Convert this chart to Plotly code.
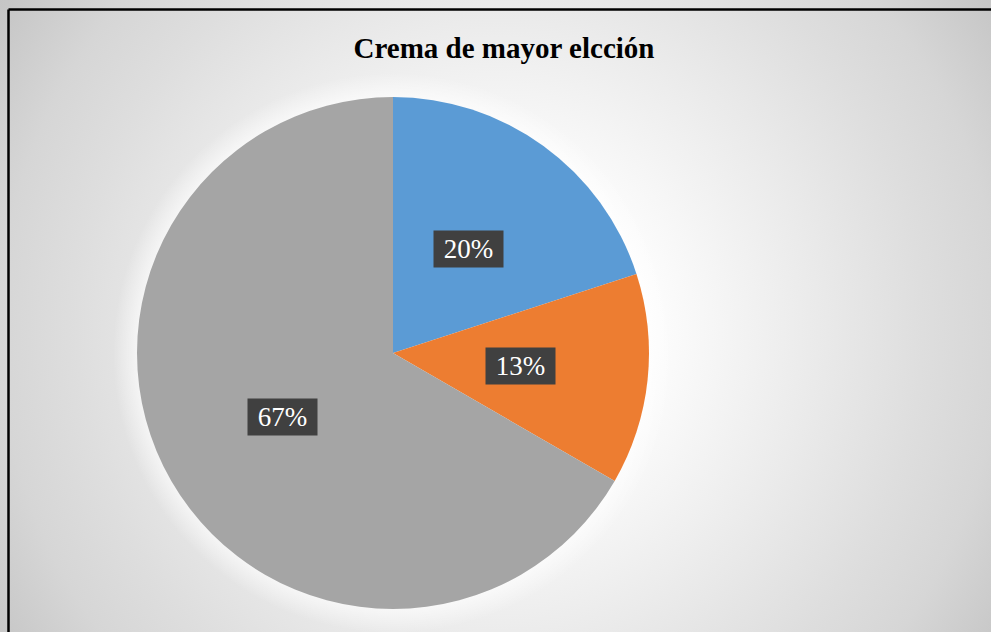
import math
import plotly.graph_objects as go

# ---- data ----
categories = ["MUESTRA 1", "MUESTRA 2", "MUESTRA 3"]
counts = [3, 2, 10]
colors = ["#5B9BD5", "#ED7D31", "#A5A5A5"]
title_text = "Crema de mayor elcción"

W, H = 991, 632
SERIF = "Liberation Serif, Times New Roman, serif"

cx_px, cy_px, r_px = 393, 353, 256
dom_x = [(cx_px - r_px) / W, (cx_px + r_px) / W]
dom_y = [1 - (cy_px + r_px) / H, 1 - (cy_px - r_px) / H]

fig = go.Figure()

gx, gy, S = 500, 330, 650
fig.add_trace(go.Scatter(
    x=[(gx - S) / W, (gx + S) / W, (gx + S) / W, (gx - S) / W, (gx - S) / W],
    y=[1 - (gy + S) / H, 1 - (gy + S) / H, 1 - (gy - S) / H, 1 - (gy - S) / H,
       1 - (gy + S) / H],
    mode="none", fill="toself",
    fillgradient=dict(type="radial", colorscale=[
        [0, "#ffffff"], [0.23, "#fdfdfd"], [0.49, "#eaeaea"], [0.65, "#dedede"],
        [0.77, "#d6d6d6"], [0.91, "#c6c6c6"], [1, "#c0c0c0"]]),
    hoverinfo="skip", showlegend=False))

R_out = r_px + 24
ts = [2 * math.pi * i / 180 for i in range(181)]
fig.add_trace(go.Scatter(
    x=[(cx_px + R_out * math.cos(t)) / W for t in ts],
    y=[1 - (cy_px + R_out * math.sin(t)) / H for t in ts],
    mode="none", fill="toself",
    fillgradient=dict(type="radial", colorscale=[
        [0, "rgba(255,255,255,0.8)"], [r_px / R_out, "rgba(255,255,255,0.6)"],
        [1, "rgba(255,255,255,0)"]]),
    hoverinfo="skip", showlegend=False))

fig.add_trace(go.Pie(
    labels=categories, values=counts, sort=False, direction="clockwise",
    rotation=0, marker=dict(colors=colors, line=dict(width=0)),
    textinfo="none", hoverinfo="label+percent", showlegend=False,
    domain=dict(x=dom_x, y=dom_y)))

total = sum(counts)
cum = 0
annotations = []
for v in counts:
    mid = (cum + v / 2) / total * 2 * math.pi
    cum += v
    px = cx_px + 0.5 * r_px * math.sin(mid)
    py = cy_px - 0.5 * r_px * math.cos(mid)
    annotations.append(dict(
        x=px / W, y=1 - py / H, xref="paper", yref="paper",
        text=f" {round(100 * v / total)}% ", showarrow=False,
        font=dict(family=SERIF, size=27, color="white"),
        bgcolor="#404040", borderpad=3, xanchor="center", yanchor="middle"))

fig.update_layout(
    width=W, height=H, margin=dict(l=0, r=0, t=0, b=0),
    paper_bgcolor="#d0d0d0", plot_bgcolor="rgba(0,0,0,0)",
    xaxis=dict(range=[0, 1], visible=False, fixedrange=True),
    yaxis=dict(range=[0, 1], visible=False, fixedrange=True),
    title=dict(text="<b>" + title_text + "</b>", x=504 / W, y=1 - 48 / H,
               xanchor="center", yanchor="middle",
               font=dict(family=SERIF, size=29, color="black")),
    showlegend=False,
    annotations=annotations,
    shapes=[
        dict(type="line", xref="paper", yref="paper",
             x0=8.5 / W, y0=1 - 9.5 / H, x1=1, y1=1 - 9.5 / H,
             line=dict(color="black", width=2.5), layer="above"),
        dict(type="line", xref="paper", yref="paper",
             x0=8.5 / W, y0=1 - 9.5 / H, x1=8.5 / W, y1=0,
             line=dict(color="black", width=2.5), layer="above"),
    ],
)

fig.write_html("out.html")
